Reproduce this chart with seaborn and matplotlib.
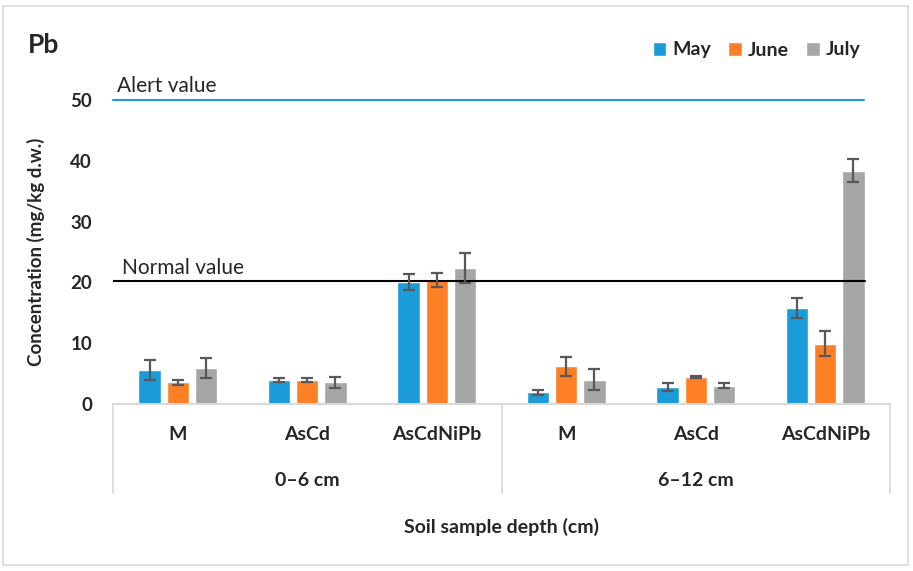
import numpy as np
import pandas as pd
import matplotlib.pyplot as plt
import matplotlib.transforms as mtransforms
from matplotlib.patches import Rectangle
import seaborn as sns

# Data
depths = ['0–6 cm', '6–12 cm']
treatments = ['M', 'AsCd', 'AsCdNiPb']
months = ['May', 'June', 'July']

may = [5.6, 3.9, 20.1, 1.9, 2.8, 15.8]
june = [3.6, 3.9, 20.4, 6.2, 4.4, 9.9]
july = [5.9, 3.6, 22.4, 4.0, 3.0, 38.4]
may_err = [1.7, 0.35, 1.3, 0.4, 0.65, 1.7]
june_err = [0.4, 0.35, 1.2, 1.6, 0.15, 2.05]
july_err = [1.7, 0.9, 2.5, 1.7, 0.4, 1.95]

alert_value = 50
normal_value = 20.3

colors = ['#1B9BD8', '#FF7F27', '#A6A6A6']

sns.set_theme(style='white')
plt.rcParams['font.family'] = ['Lato', 'DejaVu Sans']

cats = [f'{d}|{t}' for d in depths for t in treatments]
df = pd.DataFrame({
    'cat': cats * 3,
    'month': np.repeat(months, len(cats)),
    'value': may + june + july,
    'err': may_err + june_err + july_err,
})

fig = plt.figure(figsize=(9.13, 5.71), dpi=100)
ax = fig.add_axes([113 / 913, 1 - 404 / 571, 777 / 913, 304 / 571])

sns.barplot(data=df, x='cat', y='value', hue='month', order=cats, hue_order=months,
            palette=colors, width=0.65, gap=0.2, errorbar=None, ax=ax,
            saturation=1, legend=True)

# error bars on top of the bars
for cont, m in zip(ax.containers, months):
    sub = df[df['month'] == m]
    xs = [p.get_x() + p.get_width() / 2 for p in cont.patches]
    ax.errorbar(xs, sub['value'], yerr=sub['err'], fmt='none', ecolor='#595959',
                elinewidth=1.6, capsize=4.5, capthick=1.6, zorder=5)

ax.set_ylim(0, 50)
ax.set_xlim(-0.5, 5.5)
ax.set_yticks([0, 10, 20, 30, 40, 50])
ax.tick_params(axis='y', length=0, pad=15, labelsize=13.5)
for lab in ax.get_yticklabels():
    lab.set_fontweight('bold')
ax.set_xticks([])
ax.set_xlabel('')
ax.set_ylabel('Concentration (mg/kg d.w.)', fontsize=13.5, fontweight='bold', labelpad=18)
for s in ax.spines.values():
    s.set_visible(False)

# reference lines
ax.axhline(alert_value, xmin=0, xmax=0.967, color='#1B9BD8', lw=1.5, clip_on=False)
ax.axhline(normal_value, xmin=0, xmax=0.968, color='black', lw=1.5, zorder=4)
ax.text(-0.47, alert_value + 0.6, 'Alert value', fontsize=15, va='bottom')
ax.text(-0.43, normal_value + 0.4, 'Normal value', fontsize=15, va='bottom')

# two level category axis
trans = mtransforms.blended_transform_factory(ax.transData, ax.transAxes)
grey = '#D9D9D9'
ax.plot([-0.5, 5.5], [0, 0], color=grey, lw=1.5, transform=trans, clip_on=False)
for xv in [-0.5, 2.5, 5.5]:
    ax.plot([xv, xv], [0, -0.293], color=grey, lw=1.2, transform=trans, clip_on=False)
for i, c in enumerate(cats):
    ax.text(i, -0.10, c.split('|')[1], transform=trans, ha='center', va='center',
            fontsize=14, fontweight='bold')
for j, d in enumerate(depths):
    ax.text(1 + 3 * j, -0.25, d, transform=trans, ha='center', va='center',
            fontsize=14, fontweight='bold')
fig.text(0.5 * (113 + 890) / 913, 1 - 527 / 571, 'Soil sample depth (cm)',
         ha='center', va='center', fontsize=14, fontweight='bold')

# title and legend
fig.text(28 / 913, 1 - 45 / 571, 'Pb', fontsize=19, fontweight='bold', va='center')
leg = ax.legend(loc='center right', bbox_to_anchor=(878 / 913, 1 - 50 / 571),
                bbox_transform=fig.transFigure, ncol=3, frameon=False,
                handlelength=0.7, handleheight=0.7, handletextpad=0.3,
                columnspacing=0.9, fontsize=14)
for t in leg.get_texts():
    t.set_fontweight('bold')

# outer chart border
fig.patches.append(Rectangle((3 / 913, 6 / 571), 905 / 913, 559 / 571,
                             transform=fig.transFigure, fill=False,
                             edgecolor='#D9D9D9', lw=1.2))

fig.savefig('out.png', dpi=100)
